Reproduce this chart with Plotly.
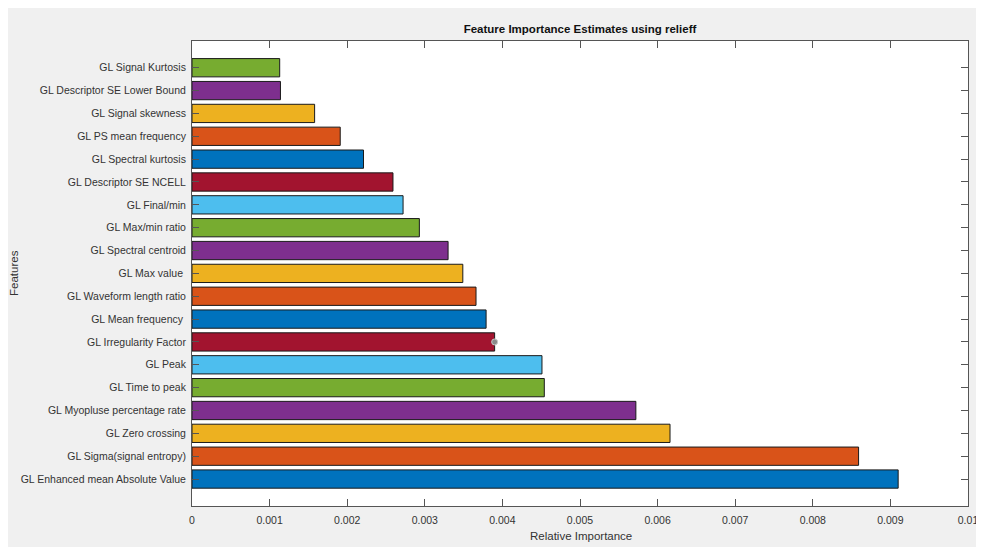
import plotly.graph_objects as go

# Features listed from bottom (most important) to top
features = [
    "GL Enhanced mean Absolute Value",
    "GL Sigma(signal entropy)",
    "GL Zero crossing",
    "GL Myopluse percentage rate",
    "GL Time to peak",
    "GL Peak",
    "GL Irregularity Factor",
    "GL Mean frequency\u00a0",
    "GL Waveform length ratio",
    "GL Max value\u00a0",
    "GL Spectral centroid",
    "GL Max/min ratio",
    "GL Final/min",
    "GL Descriptor SE NCELL",
    "GL Spectral kurtosis",
    "GL PS mean frequency",
    "GL Signal skewness",
    "GL Descriptor SE Lower Bound",
    "GL Signal Kurtosis",
]
importance = [
    0.00910, 0.00859, 0.00616, 0.00572, 0.00454, 0.00451, 0.00390,
    0.00379, 0.00366, 0.00349, 0.00330, 0.00293, 0.00272, 0.00259,
    0.00221, 0.00191, 0.00158, 0.00114, 0.00113,
]
palette = ["#0072BD", "#D95319", "#EDB120", "#7E2F8E", "#77AC30", "#4DBEEE", "#A2142F"]
bar_colors = [palette[i % len(palette)] for i in range(len(features))]

x_ticks = [0, 0.001, 0.002, 0.003, 0.004, 0.005, 0.006, 0.007, 0.008, 0.009, 0.01]
x_ticklabels = ["0", "0.001", "0.002", "0.003", "0.004", "0.005", "0.006", "0.007", "0.008", "0.009", "0.01"]

# data tip marker on the Irregularity Factor bar
tip_feature = "GL Irregularity Factor"
tip_value = 0.00390

# figure sits at the page's 8px body margin
W, H = 976, 539
ml, mr, mt, mb = 184, 16, 33, 41
pw, ph = W - ml - mr, H - mt - mb

fig = go.Figure()
fig.add_trace(go.Bar(
    x=importance, y=features, orientation="h",
    marker=dict(color=bar_colors, line=dict(color="#1a1a1a", width=1)),
    width=0.8, hoverinfo="x+y",
))
fig.add_trace(go.Scatter(
    x=[tip_value], y=[tip_feature], mode="markers",
    marker=dict(size=6, color="#8a8a8a", line=dict(color="#c8c8c8", width=1)),
    hoverinfo="skip",
))

axis_col = "#555555"
font_col = "#333333"
FONT = "Liberation Sans, Arial, sans-serif"


def px_to_paper_x(px):
    return (px - ml) / pw


def px_to_paper_y(py):
    return (H - mb - py) / ph


fig.add_annotation(text="Relative Importance", xref="paper", yref="paper",
                   x=px_to_paper_x(573), y=px_to_paper_y(528),
                   xanchor="center", yanchor="middle", showarrow=False,
                   font=dict(family=FONT, size=11.5, color=font_col))
fig.add_annotation(text="Features", xref="paper", yref="paper",
                   x=px_to_paper_x(6), y=px_to_paper_y(265), textangle=-90,
                   xanchor="center", yanchor="middle", showarrow=False,
                   font=dict(family=FONT, size=11.5, color=font_col))

fig.update_layout(
    width=W, height=H,
    margin=dict(l=ml, r=mr, t=mt, b=mb, autoexpand=False),
    paper_bgcolor="#f0f0f0",
    plot_bgcolor="white",
    showlegend=False,
    bargap=0.2,
    font=dict(family=FONT, size=10.5, color=font_col),
    title=dict(text="<b>Feature Importance Estimates using relieff</b>",
               x=(ml + pw / 2) / W, xanchor="center",
               y=1 - 21 / H, yanchor="middle", yref="container",
               font=dict(size=11.5, color="#111111")),
    xaxis=dict(
        range=[0, 0.01], tickvals=x_ticks, ticktext=x_ticklabels,
        ticks="inside", ticklen=7, tickcolor=axis_col, tickwidth=1,
        showline=True, linecolor=axis_col, linewidth=1, mirror="ticks",
        showgrid=False, zeroline=False, automargin=False,
        ticklabelstandoff=4,
        tickfont=dict(size=10.5),
    ),
    yaxis=dict(
        categoryorder="array", categoryarray=features,
        range=[-1.18, 19.17],
        ticks="inside", ticklen=7, tickcolor=axis_col, tickwidth=1,
        showline=True, linecolor=axis_col, linewidth=1, mirror="ticks",
        showgrid=False, zeroline=False, automargin=False,
        ticklabelstandoff=3,
        tickfont=dict(size=10.5),
    ),
)

fig.write_html("out.html")
